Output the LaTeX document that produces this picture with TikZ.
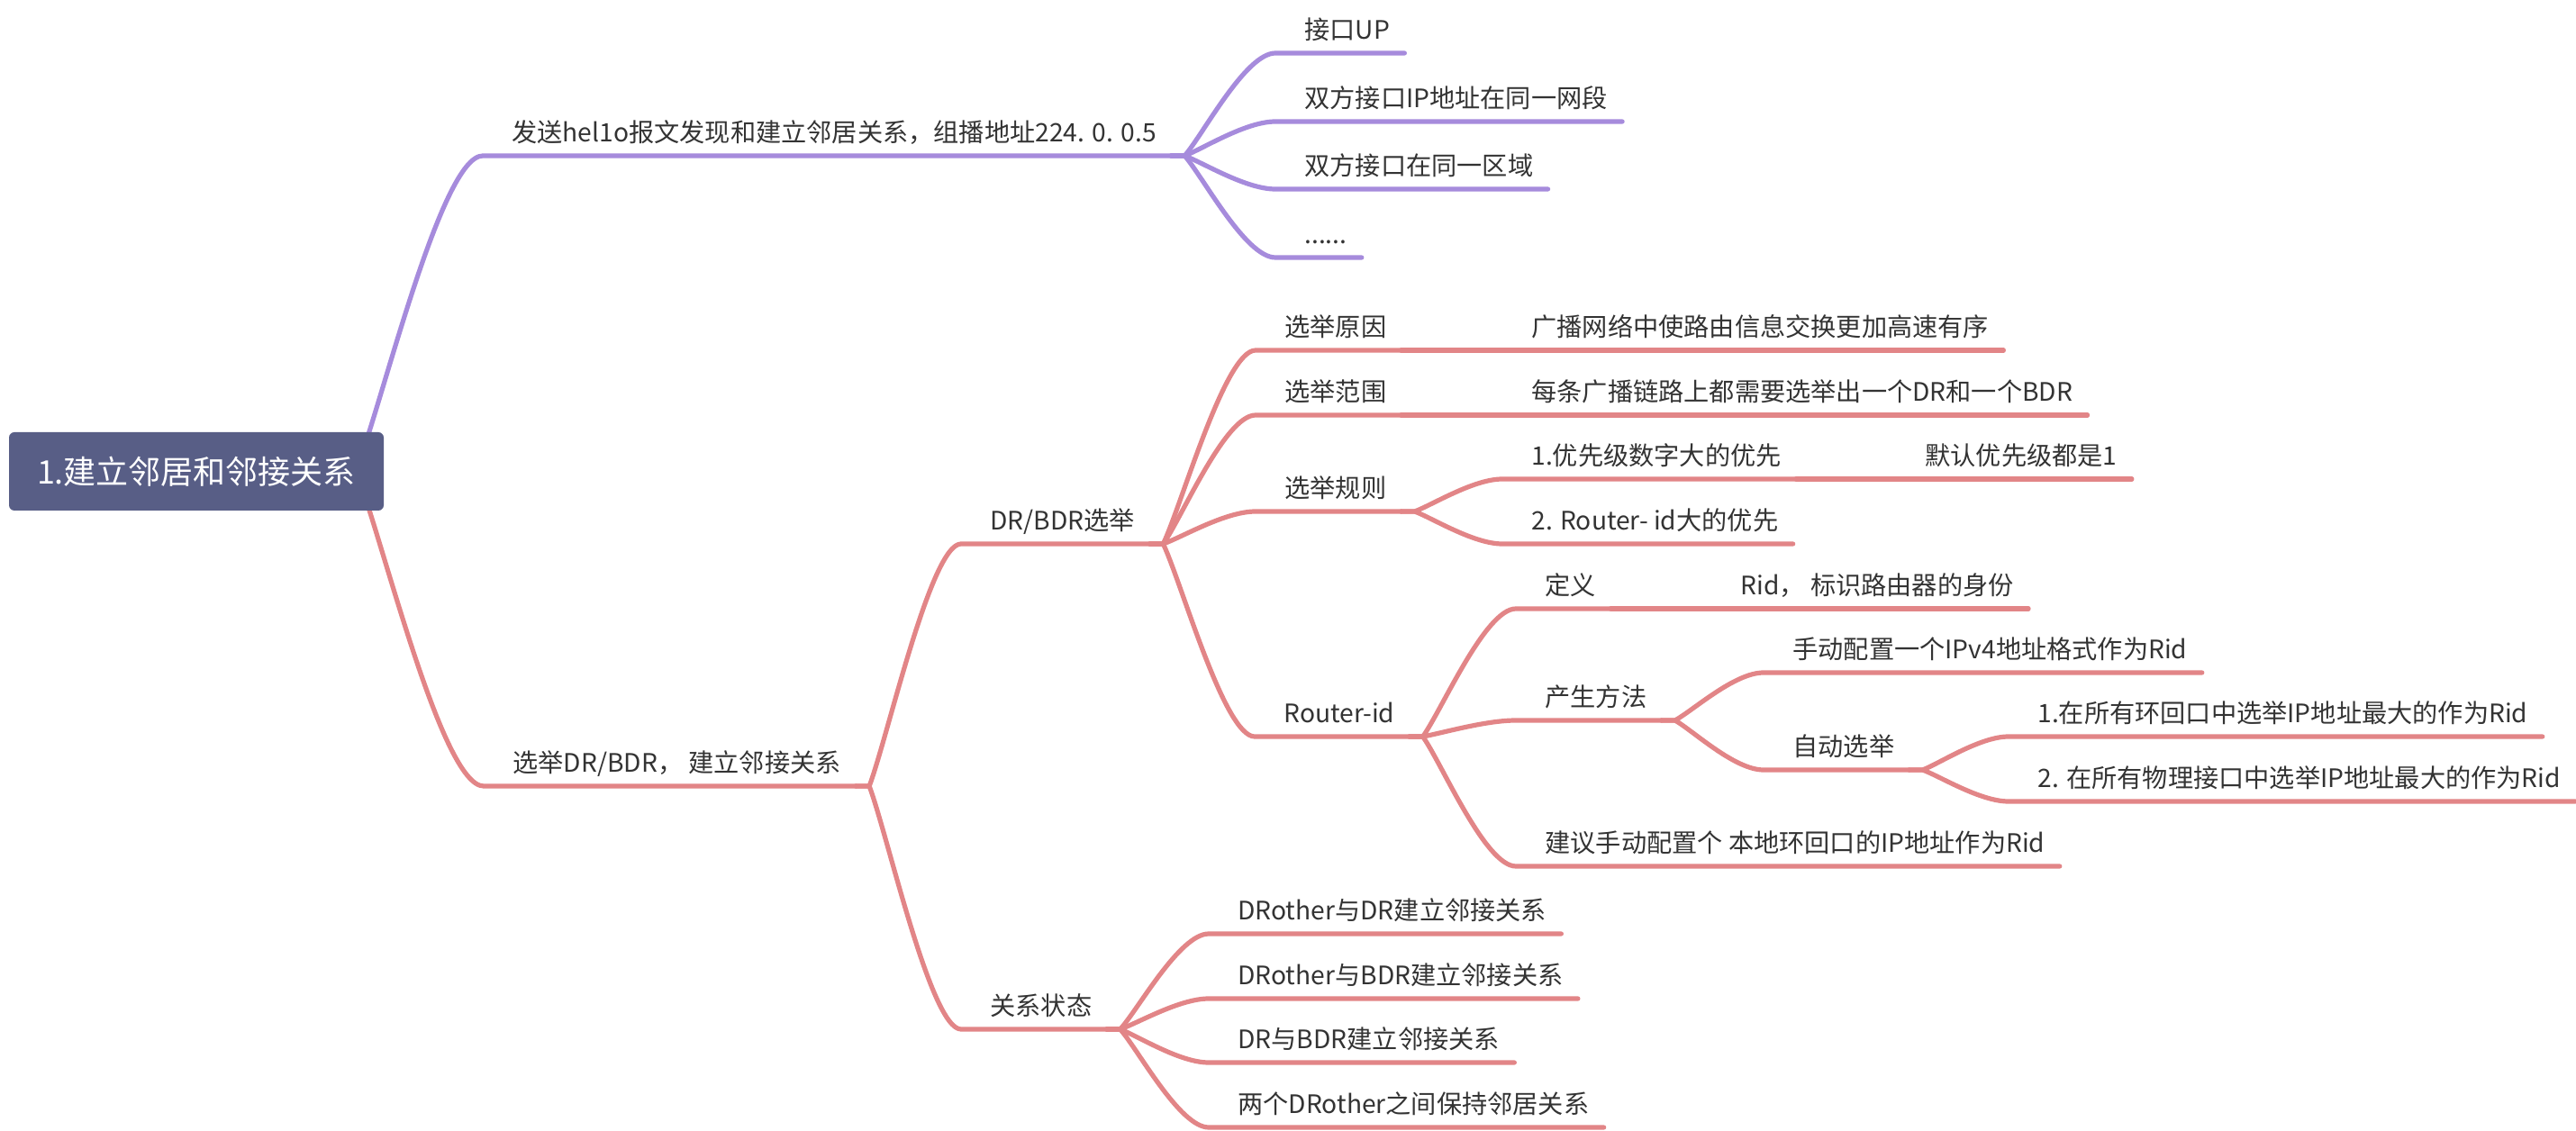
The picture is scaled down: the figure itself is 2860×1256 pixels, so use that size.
\documentclass[tikz,border=0pt]{standalone}
\usepackage{fontspec}
\setmainfont{Noto Sans CJK SC}
\usetikzlibrary{calc}
\definecolor{rootblue}{RGB}{88,94,134}
\definecolor{lilac}{RGB}{166,139,220}
\definecolor{salmon}{RGB}{226,133,135}
\definecolor{ink}{RGB}{51,51,51}
\begin{document}
\begin{tikzpicture}[x=0.5pt, y=-0.5pt,
	root/.style={ rounded corners=3pt, fill=rootblue, text=white, font=\fontsize{18}{22}\selectfont, minimum width=208pt, minimum height=43.5pt, inner sep=0pt },
	topic/.style={ anchor=south west, inner xsep=8pt, inner ysep=4pt, text=ink, font=\fontsize{14.1}{17}\selectfont, text height=12pt, text depth=3.6pt, execute at begin node={\hspace*{8pt}} },
	branchp/.style={ lilac, line width=2.6pt, line cap=round, line join=round },
	branchr/.style={ salmon, line width=2.6pt, line cap=round, line join=round },
	curve/.style={ to path={ .. controls ($(\tikztostart)!0.2!(\tikztotarget)$) and ($(\tikztotarget)!0.33!(\tikztostart |- \tikztotarget)$) .. (\tikztotarget) } }
]
\useasboundingbox (0,0) rectangle (2860,1256);

% purple branch
\node[topic] (hello) at (536,173) {发送hel1o报文发现和建立邻居关系，组播地址224. 0. 0.5};
\node[topic] (up) at (1416,59) {接口UP};
\node[topic] (ipseg) at (1416,135) {双方接口IP地址在同一网段};
\node[topic] (area) at (1416,210) {双方接口在同一区域};
\node[topic] (dots) at (1416,286) {......};

% red branch
\node[topic] (elect) at (537,873) {选举DR/BDR， 建立邻接关系};
\node[topic] (drbdr) at (1067,604) {DR/BDR选举};
\node[topic] (state) at (1067,1143) {关系状态};

\node[topic] (reason) at (1394,389) {选举原因};
\node[topic] (scope) at (1394,461) {选举范围};
\node[topic] (rules) at (1394,568) {选举规则};
\node[topic] (rid) at (1393,818) {Router-id};

\node[topic] (bcast) at (1668,389) {广播网络中使路由信息交换更加高速有序};
\node[topic] (perlink) at (1668,461) {每条广播链路上都需要选举出一个DR和一个BDR};
\node[topic] (prio) at (1668,532) {1.优先级数字大的优先};
\node[topic] (defprio) at (2105,532) {默认优先级都是1};
\node[topic] (ridbig) at (1668,604) {2. Router- id大的优先};

\node[topic] (define) at (1683,676) {定义};
\node[topic] (ridself) at (1900,676) {Rid， 标识路由器的身份};
\node[topic] (method) at (1683,800) {产生方法};
\node[topic] (advise) at (1683,962) {建议手动配置个 本地环回口的IP地址作为Rid};
\node[topic] (manual) at (1958,747) {手动配置一个IPv4地址格式作为Rid};
\node[topic] (auto) at (1958,855) {自动选举};
\node[topic] (loopip) at (2230,818) {1.在所有环回口中选举IP地址最大的作为Rid};
\node[topic] (physip) at (2230,890) {2. 在所有物理接口中选举IP地址最大的作为Rid};

\node[topic] (dro-dr) at (1342,1037) {DRother与DR建立邻接关系};
\node[topic] (dro-bdr) at (1342,1109) {DRother与BDR建立邻接关系};
\node[topic] (dr-bdr) at (1342,1180) {DR与BDR建立邻接关系};
\node[topic] (dro-dro) at (1342,1252) {两个DRother之间保持邻居关系};

% connectors and underlines
\coordinate (hub) at (395,523);
\draw[branchp] (hub) to[curve] (hello.south west) -- (hello.south east);
\foreach \n in {up,ipseg,area,dots}
	\draw[branchp] (hello.south east) -- ++(15,0) to[curve] (\n.south west) -- (\n.south east);

\draw[branchr] (hub) to[curve] (elect.south west) -- (elect.south east);
\foreach \n in {drbdr,state}
	\draw[branchr] (elect.south east) -- ++(15,0) to[curve] (\n.south west) -- (\n.south east);
\foreach \n in {reason,scope,rules,rid}
	\draw[branchr] (drbdr.south east) -- ++(15,0) to[curve] (\n.south west) -- (\n.south east);
\draw[branchr] (reason.south east) -- (bcast.south west) -- (bcast.south east);
\draw[branchr] (scope.south east) -- (perlink.south west) -- (perlink.south east);
\foreach \n in {prio,ridbig}
	\draw[branchr] (rules.south east) -- ++(15,0) to[curve] (\n.south west) -- (\n.south east);
\draw[branchr] (prio.south east) -- (defprio.south west) -- (defprio.south east);
\foreach \n in {define,method,advise}
	\draw[branchr] (rid.south east) -- ++(15,0) to[curve] (\n.south west) -- (\n.south east);
\draw[branchr] (define.south east) -- (ridself.south west) -- (ridself.south east);
\foreach \n in {manual,auto}
	\draw[branchr] (method.south east) -- ++(15,0) to[curve] (\n.south west) -- (\n.south east);
\foreach \n in {loopip,physip}
	\draw[branchr] (auto.south east) -- ++(15,0) to[curve] (\n.south west) -- (\n.south east);
\foreach \n in {dro-dr,dro-bdr,dr-bdr,dro-dro}
	\draw[branchr] (state.south east) -- ++(15,0) to[curve] (\n.south west) -- (\n.south east);

\node[root] (root) at (218,523.5) {1.建立邻居和邻接关系};

\end{tikzpicture}
\end{document}
